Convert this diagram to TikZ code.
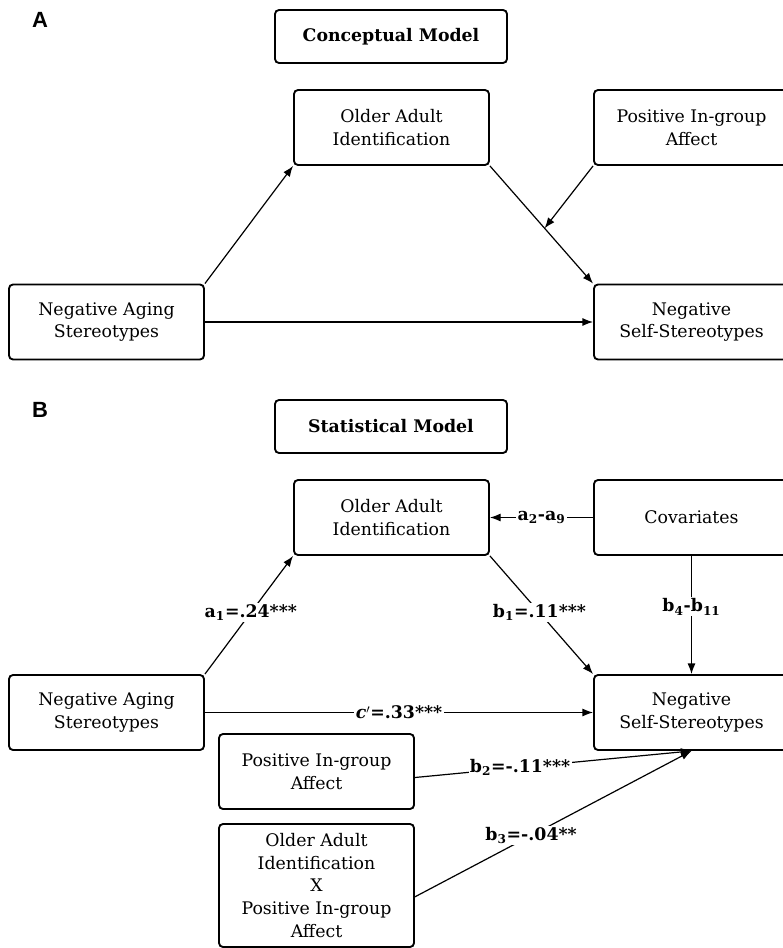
\documentclass[tikz,border=0pt]{standalone}
\usepackage{fontspec}
\setmainfont{DejaVu Serif}
\newfontfamily\panelfont{Liberation Sans}
\usetikzlibrary{arrows.meta}

\tikzset{
  box/.style={draw,rounded corners=3pt,line width=1.4pt,align=center,
    minimum width=146.25pt,minimum height=56.25pt,inner sep=2pt,
    font=\fontsize{13}{17}\selectfont},
  titlebox/.style={box,minimum width=174pt,minimum height=39.75pt,
    font=\fontsize{13}{17}\selectfont\bfseries},
  tallbox/.style={box,minimum height=92.25pt},
  link/.style={line width=0.9pt,-{Latex[length=8pt,width=6pt]}},
  coef/.style={fill=white,inner sep=1pt,font=\fontsize{13}{17}\selectfont\bfseries},
  panel/.style={font=\panelfont\bfseries\fontsize{16.5}{18}\selectfont}
}

\begin{document}
\begin{tikzpicture}[x=0.75pt,y=-0.75pt]
\useasboundingbox (0,0) rectangle (782,948);

% A: conceptual model
\node[panel] (labA) at (40,20) {A};
\node[titlebox] (concA) at (391,36.5) {Conceptual Model};
\node[box] (oaiA) at (391.5,127.5) {Older Adult\\Identification};
\node[box] (piaA) at (691.5,127.5) {Positive In-group\\Affect};
\node[box] (nasA) at (106.5,322) {Negative Aging\\Stereotypes};
\node[box] (nssA) at (691.5,322) {Negative\\Self-Stereotypes};

\draw[link] (nasA.north east) -- (oaiA.south west);
\draw[link] (oaiA.south east) -- coordinate[pos=0.53] (modpt) (nssA.north west);
\draw[link] (nasA.east) -- (nssA.west);
\draw[link] (piaA.south west) -- (modpt);

% B: statistical model
\node[panel] (labB) at (40,410) {B};
\node[titlebox] (statB) at (391,426.5) {Statistical Model};
\node[box] (oaiB) at (391.5,517.5) {Older Adult\\Identification};
\node[box] (covB) at (691.5,517.5) {Covariates};
\node[box] (nasB) at (106.5,712.5) {Negative Aging\\Stereotypes};
\node[box] (nssB) at (691.5,712.5) {Negative\\Self-Stereotypes};
\node[box] (piaB) at (316.5,771.5) {Positive In-group\\Affect};
\node[tallbox] (intB) at (316.5,885.5) {Older Adult\\Identification\\X\\Positive In-group\\Affect};

\draw[link] (nasB.north east) -- node[coef,pos=0.52]{a\textsubscript{1}=.24***} (oaiB.south west);
\draw[link] (oaiB.south east) -- node[coef,pos=0.48]{b\textsubscript{1}=.11***} (nssB.north west);
\draw[link] (covB.west) -- node[coef]{a\textsubscript{2}-a\textsubscript{9}} (oaiB.east);
\draw[link] (covB.south) -- node[coef,pos=0.43]{b\textsubscript{4}-b\textsubscript{11}} (nssB.north);
\draw[link] (nasB.east) -- node[coef,pos=0.50]{\textit{c}$'$=.33***} (nssB.west);
\draw[link] ([yshift=-4.5pt]piaB.east) -- node[coef,pos=0.38]{b\textsubscript{2}=-.11***} (nssB.south);
\draw[link] ([yshift=-8.5pt]intB.east) -- node[coef,pos=0.42]{b\textsubscript{3}=-.04**} (nssB.south);

\end{tikzpicture}
\end{document}
